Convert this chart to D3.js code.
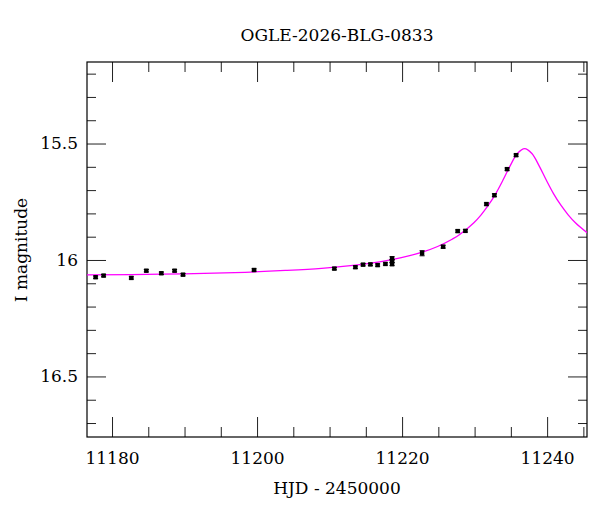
<!DOCTYPE html>
<html><head><meta charset="utf-8">
<script src="https://cdn.jsdelivr.net/npm/d3@7"></script>
<style>
body{margin:0;background:#fff;}
svg{display:block;}
text{font-family:"DejaVu Serif",serif;fill:#000;}
</style></head>
<body><svg id="c" width="600" height="512"></svg>
<script>
// observed photometry
const obsDays = [11177.74, 11178.84, 11182.66, 11184.73, 11186.80, 11188.63, 11189.79, 11199.59, 11210.66, 11213.56, 11214.62, 11215.63, 11216.63, 11217.70, 11218.62, 11218.62, 11218.62, 11222.76, 11225.66, 11227.67, 11228.73, 11231.63, 11232.73, 11234.48, 11235.72];
const obsMags = [16.074, 16.067, 16.077, 16.046, 16.057, 16.046, 16.063, 16.043, 16.037, 16.031, 16.020, 16.019, 16.022, 16.017, 15.993, 16.004, 16.018, 15.971, 15.943, 15.876, 15.875, 15.760, 15.722, 15.610, 15.550];
const obsErrs = [0.005, 0.005, 0.005, 0.005, 0.005, 0.005, 0.005, 0.005, 0.005, 0.005, 0.005, 0.005, 0.005, 0.005, 0.007, 0.006, 0.006, 0.011, 0.006, 0.005, 0.005, 0.005, 0.006, 0.005, 0.005];
// model curve
const modelDays = [11176.5, 11186.9, 11196.9, 11203.9, 11208.9, 11212.9, 11216.9, 11219.9, 11222.9, 11224.9, 11226.9, 11227.9, 11229.9, 11230.9, 11231.9, 11232.9, 11233.9, 11234.9, 11235.9, 11236.9, 11237.9, 11238.9, 11239.9, 11240.9, 11241.9, 11242.9, 11243.9, 11245.6];
const modelMags = [16.064, 16.061, 16.054, 16.045, 16.036, 16.024, 16.008, 15.990, 15.965, 15.942, 15.911, 15.892, 15.840, 15.806, 15.765, 15.716, 15.658, 15.596, 15.543, 15.522, 15.543, 15.596, 15.658, 15.716, 15.765, 15.806, 15.840, 15.885];
// axes
const xMajor = [11180, 11200, 11220, 11240];
const xMinor = [11185, 11190, 11195, 11205, 11210, 11215, 11225, 11230, 11235, 11245];
const yMajor = [15.5, 16, 16.5];
const yMinor = [15.2, 15.3, 15.4, 15.6, 15.7, 15.8, 15.9, 16.1, 16.2, 16.3, 16.4, 16.6, 16.7];
const xLabels = ["11180", "11200", "11220", "11240"];
const yLabels = ["15.5", "16", "16.5"];
const title = "OGLE-2026-BLG-0833";
const xTitle = "HJD - 2450000";
const yTitle = "I magnitude";

const W = 600, H = 512, m = {l: 87, r: 13, t: 62, b: 75};
const svg = d3.select("#c");
const x = d3.scaleLinear().domain([11176.55, 11245.5]).range([m.l, W - m.r]);
const y = d3.scaleLinear().domain([15.15, 16.76]).range([m.t, H - m.b]);
const pw = W - m.l - m.r, ph = H - m.t - m.b;

svg.append("defs").append("clipPath").attr("id", "clip")
  .append("rect").attr("x", m.l).attr("y", m.t).attr("width", pw).attr("height", ph);

function styleAxis(g) {
  g.select(".domain").remove();
  g.selectAll(".tick line").attr("stroke", "#222").attr("stroke-width", 1);
}
const lab = g => g.selectAll("text").attr("font-size", 17).attr("font-family", "DejaVu Serif").attr("fill", "#000");
// bottom
svg.append("g").attr("transform", `translate(0,${H - m.b})`)
  .call(d3.axisBottom(x).tickValues(xMajor).tickSize(-20).tickPadding(15).tickFormat((d, i) => xLabels[i]))
  .call(styleAxis).call(lab);
svg.append("g").attr("transform", `translate(0,${H - m.b})`)
  .call(d3.axisBottom(x).tickValues(xMinor).tickSize(-10).tickFormat("")).call(styleAxis);
// top
svg.append("g").attr("transform", `translate(0,${m.t})`)
  .call(d3.axisTop(x).tickValues(xMajor).tickSize(-20).tickFormat("")).call(styleAxis);
svg.append("g").attr("transform", `translate(0,${m.t})`)
  .call(d3.axisTop(x).tickValues(xMinor).tickSize(-10).tickFormat("")).call(styleAxis);
// left
svg.append("g").attr("transform", `translate(${m.l},0)`)
  .call(d3.axisLeft(y).tickValues(yMajor).tickSize(-19).tickPadding(9).tickFormat((d, i) => yLabels[i]))
  .call(styleAxis).call(lab);
svg.append("g").attr("transform", `translate(${m.l},0)`)
  .call(d3.axisLeft(y).tickValues(yMinor).tickSize(-9).tickFormat("")).call(styleAxis);
// right
svg.append("g").attr("transform", `translate(${W - m.r},0)`)
  .call(d3.axisRight(y).tickValues(yMajor).tickSize(-19).tickFormat("")).call(styleAxis);
svg.append("g").attr("transform", `translate(${W - m.r},0)`)
  .call(d3.axisRight(y).tickValues(yMinor).tickSize(-9).tickFormat("")).call(styleAxis);

// frame
svg.append("rect").attr("x", m.l).attr("y", m.t).attr("width", pw).attr("height", ph)
  .attr("fill", "none").attr("stroke", "#000").attr("stroke-width", 1.2);

// model curve
const model = modelDays.map((d, i) => [d, modelMags[i]]);
svg.append("path").datum(model).attr("clip-path", "url(#clip)")
  .attr("fill", "none").attr("stroke", "#ff00ff").attr("stroke-width", 1.3)
  .attr("d", d3.line().x(d => x(d[0])).y(d => y(d[1])).curve(d3.curveCatmullRom.alpha(0.5)));

// data with error bars
const obs = obsDays.map((d, i) => ({t: d, m: obsMags[i], e: obsErrs[i]}));
const gp = svg.append("g");
gp.selectAll("line.eb").data(obs).join("line").attr("class", "eb")
  .attr("x1", d => x(d.t)).attr("x2", d => x(d.t))
  .attr("y1", d => y(d.m - d.e)).attr("y2", d => y(d.m + d.e))
  .attr("stroke", "#000").attr("stroke-width", 1);
gp.selectAll("line.c1").data(obs).join("line").attr("class", "c1")
  .attr("x1", d => x(d.t) - 2.5).attr("x2", d => x(d.t) + 2.5)
  .attr("y1", d => y(d.m - d.e)).attr("y2", d => y(d.m - d.e))
  .attr("stroke", "#000").attr("stroke-width", 1);
gp.selectAll("line.c2").data(obs).join("line").attr("class", "c2")
  .attr("x1", d => x(d.t) - 2.5).attr("x2", d => x(d.t) + 2.5)
  .attr("y1", d => y(d.m + d.e)).attr("y2", d => y(d.m + d.e))
  .attr("stroke", "#000").attr("stroke-width", 1);
gp.selectAll("rect").data(obs).join("rect")
  .attr("x", d => x(d.t) - 2.2).attr("y", d => y(d.m) - 2.2)
  .attr("width", 4.4).attr("height", 4.4).attr("fill", "#000");

// titles
svg.append("text").attr("x", (m.l + W - m.r) / 2).attr("y", 41).attr("text-anchor", "middle")
  .attr("font-size", 17).text(title);
svg.append("text").attr("x", (m.l + W - m.r) / 2).attr("y", 494).attr("text-anchor", "middle")
  .attr("font-size", 17).text(xTitle);
svg.append("text").attr("transform", `translate(27,250) rotate(-90)`).attr("text-anchor", "middle")
  .attr("font-size", 17).text(yTitle);
</script></body></html>
